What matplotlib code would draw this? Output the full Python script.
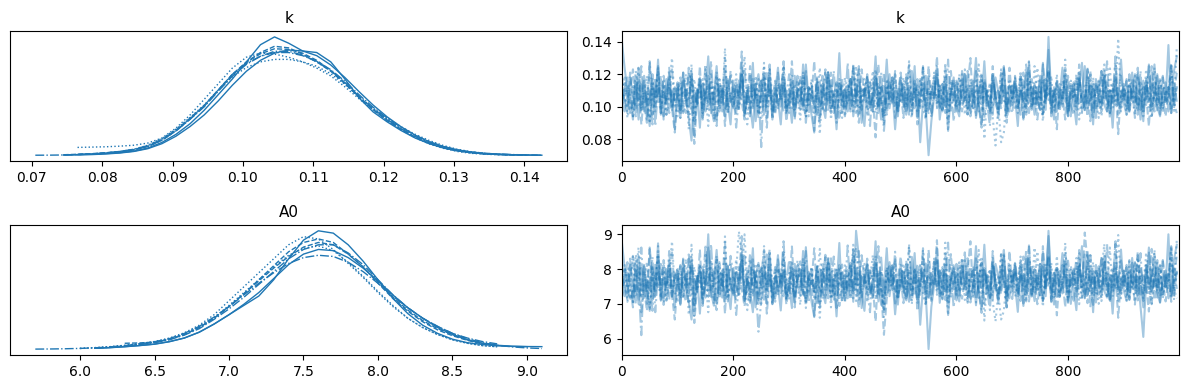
import matplotlib
import matplotlib.pyplot as plt
import numpy as np
from matplotlib.ticker import MultipleLocator

matplotlib.use("Agg")

COLOR = "#1f77b4"
LINESTYLES = ["-", "--", ":", "-."]

# Grid on which each chain's density was read (k and A0)
K_GRID = [0.0705, 0.0725, 0.0745, 0.0765, 0.0785, 0.0805, 0.0825, 0.0845, 0.0865,
          0.0885, 0.0905, 0.0925, 0.0945, 0.0965, 0.0985, 0.1005, 0.1025, 0.1045,
          0.1065, 0.1085, 0.1105, 0.1125, 0.1145, 0.1165, 0.1185, 0.1205, 0.1225,
          0.1245, 0.1265, 0.1285, 0.1305, 0.1325, 0.1345, 0.1365, 0.1385, 0.1405, 0.1425]
A0_GRID = [5.7, 5.8, 5.9, 6.0, 6.1, 6.2, 6.3, 6.4, 6.5, 6.6, 6.7, 6.8, 6.9, 7.0, 7.1,
           7.2, 7.3, 7.4, 7.5, 7.6, 7.7, 7.8, 7.9, 8.0, 8.1, 8.2, 8.3, 8.4, 8.5, 8.6,
           8.7, 8.8, 8.9, 9.0, 9.1]

# density per chain (nan = outside that chain's range)
K_DENSITY = [
    "nan nan nan 0.3 0.4 0.6 0.9 1.4 2.4 4.2 6.8 10.2 14.5 19.5 24.5 30.0 35.5 38.0 36.0 33.5 33.0 30.0 24.5 18.5 14.0 10.8 8.0 5.6 3.8 2.4 1.5 0.9 0.5 0.3 0.2 0.15 nan",
    "nan nan 0.25 0.4 0.6 0.9 1.3 1.9 3.0 5.0 8.2 12.0 16.0 21.0 26.0 30.0 33.0 35.0 34.5 32.5 30.0 27.0 23.0 18.8 14.8 11.4 8.4 5.9 3.9 2.5 1.5 0.9 0.5 0.3 0.2 0.15 nan",
    "nan nan nan 2.6 2.7 2.8 3.0 3.3 4.0 5.6 8.8 13.0 18.0 23.0 28.0 31.5 32.8 32.5 31.5 30.0 28.0 25.5 22.0 18.2 14.6 11.2 8.2 5.7 3.7 2.3 1.3 0.7 0.4 0.25 0.15 nan nan",
    "0.1 0.12 0.18 0.3 0.5 0.8 1.3 2.0 3.2 5.2 8.0 11.8 16.0 21.0 26.0 29.5 31.8 33.0 33.0 32.0 30.2 27.5 23.8 19.5 15.5 12.0 9.0 6.5 4.4 2.9 1.8 1.1 0.7 0.45 0.3 0.2 0.12",
    "nan nan 0.15 0.2 0.3 0.5 0.8 1.3 2.2 3.8 6.2 9.3 13.0 17.5 22.5 27.0 30.5 32.8 33.8 33.5 32.0 29.0 25.0 20.5 16.2 12.4 9.2 6.5 4.4 2.9 1.8 1.1 0.65 0.4 0.25 0.15 0.1",
    "nan nan nan 0.35 0.5 0.8 1.2 1.8 2.9 4.9 7.9 11.7 15.8 20.8 25.8 29.8 32.6 34.2 34.0 32.8 30.5 27.2 23.2 18.7 14.7 11.2 8.3 5.8 3.9 2.5 1.5 0.9 0.55 0.35 0.2 nan nan",
    "nan nan nan nan 0.5 0.8 1.3 2.0 3.3 5.5 8.5 12.2 16.2 21.0 25.2 28.2 30.0 30.8 30.8 30.0 28.6 26.2 22.8 18.8 15.2 12.0 9.2 6.8 4.8 3.2 2.0 1.2 0.7 0.4 nan nan nan",
    "nan nan 0.2 0.3 0.5 0.75 1.15 1.8 2.9 4.9 7.9 11.6 15.6 20.6 25.4 29.2 31.8 33.4 33.4 32.2 30.0 27.2 23.4 19.0 15.0 11.6 8.6 6.1 4.1 2.7 1.7 1.05 0.65 0.4 0.25 0.15 0.1",
]
A0_DENSITY = [
    "nan nan nan nan 0.012 0.018 0.026 0.036 0.048 0.07 0.1 0.15 0.22 0.30 0.38 0.46 0.60 0.78 0.94 1.02 1.00 0.90 0.76 0.60 0.44 0.31 0.21 0.14 0.09 0.06 0.045 0.033 0.028 0.026 nan",
    "nan nan nan nan nan nan 0.055 0.058 0.065 0.09 0.13 0.19 0.27 0.37 0.48 0.59 0.70 0.80 0.88 0.92 0.90 0.82 0.71 0.58 0.45 0.34 0.25 0.18 0.13 0.085 0.055 0.04 nan nan nan",
    "nan nan nan 0.012 0.018 0.026 0.038 0.052 0.07 0.1 0.145 0.21 0.30 0.42 0.54 0.66 0.78 0.90 0.97 0.95 0.86 0.74 0.62 0.49 0.37 0.27 0.19 0.13 0.085 0.055 0.035 0.025 nan nan nan",
    "0.005 0.006 0.008 0.011 0.016 0.024 0.035 0.05 0.068 0.095 0.14 0.2 0.28 0.37 0.47 0.57 0.66 0.74 0.79 0.81 0.80 0.75 0.67 0.57 0.46 0.36 0.27 0.2 0.14 0.095 0.06 0.038 0.024 0.015 0.01",
    "nan nan nan nan 0.012 0.017 0.025 0.035 0.047 0.068 0.1 0.15 0.22 0.30 0.39 0.49 0.61 0.73 0.82 0.86 0.85 0.79 0.70 0.59 0.47 0.36 0.27 0.19 0.13 0.085 0.055 0.038 0.03 0.027 0.026",
    "nan nan nan nan nan 0.022 0.032 0.046 0.062 0.088 0.13 0.19 0.27 0.37 0.48 0.6 0.72 0.84 0.92 0.95 0.92 0.82 0.71 0.57 0.44 0.33 0.24 0.17 0.12 0.08 0.05 0.035 nan nan nan",
    "nan nan nan 0.01 0.016 0.024 0.034 0.048 0.065 0.092 0.135 0.195 0.275 0.38 0.49 0.6 0.71 0.81 0.87 0.89 0.85 0.75 0.63 0.5 0.38 0.27 0.19 0.13 0.085 0.055 0.035 0.025 nan nan nan",
    "nan nan nan nan 0.014 0.021 0.031 0.044 0.06 0.085 0.125 0.18 0.26 0.35 0.45 0.56 0.67 0.78 0.86 0.9 0.9 0.83 0.73 0.6 0.47 0.36 0.27 0.2 0.14 0.1 0.07 0.05 nan nan nan",
]

# Trace values, one string per chain, every 5th draw (k in 1/1000, A0 in 1/100)
DRAW_STEP = 5
K_TRACE = [
    """141 124 110 97 103 115 92 108 119 101 88 112 106 125 99 94 117 104 109 86
       113 98 121 105 93 79 110 102 118 96 107 131 100 91 114 108 97 122 103 89
       116 105 99 127 94 110 101 87 112 120 106 95 103 118 92 109 124 100 113 97
       105 90 119 108 98 126 103 111 95 84 107 115 101 93 121 109 99 104 133 96
       110 102 117 94 106 123 100 88 113 105 97 119 108 92 103 129 99 111 86 107
       118 104 95 110 101 125 93 107 114 99 70 91 106 120 103 97 112 85 109 116
       100 94 122 105 111 96 108 130 102 89 115 104 98 119 107 93 110 124 101 97
       113 106 88 117 103 99 121 109 95 112 104 127 98 143 105 92 116 108 100 120
       96 111 103 89 118 107 125 99 105 114 93 109 122 101 97 110 87 116 104 129
       102 95 113 108 120 98 106 91 117 103 111 126 100 94 109 115 97 105 122 131""",
    """98 112 105 121 94 103 116 89 108 100 127 95 110 104 119 92 106 113 99 84
       107 118 101 96 124 110 77 105 115 93 109 102 120 98 88 113 106 130 97 104
       111 99 117 103 92 108 125 100 114 95 106 119 87 110 102 97 121 105 113 91
       104 128 98 109 116 101 94 112 107 85 118 103 99 123 110 96 105 115 92 108
       100 113 97 126 104 90 111 107 119 99 106 81 114 102 121 95 109 117 103 98
       110 93 120 105 100 116 89 108 124 101 96 113 106 131 99 104 118 92 110 107
       115 102 97 109 122 94 105 112 100 87 117 108 96 125 103 111 99 114 90 106
       101 119 107 95 113 104 128 98 110 92 106 116 102 121 97 109 86 112 105 118
       94 108 114 100 126 97 103 119 91 111 106 99 122 104 115 93 107 113 83 110
       105 117 96 109 101 124 98 112 107 88 115 103 120 99 106 94 111 127 102 96""",
    """106 119 93 101 114 108 125 97 110 103 91 116 105 122 99 108 95 113 130 102
       94 111 107 120 86 104 117 100 109 96 123 105 113 92 107 118 101 136 98 110
       103 115 97 121 108 89 112 104 119 95 106 127 100 111 93 116 102 108 124 97
       110 99 114 105 92 120 107 101 117 96 109 83 113 104 122 98 106 115 100 93
       118 103 109 97 125 106 100 112 94 115 108 123 99 104 89 117 110 102 120 96
       107 113 101 128 95 109 104 118 99 92 111 106 121 100 114 97 108 85 116 103
       99 120 105 110 94 117 102 108 126 97 112 104 115 93 76 101 78 84 110 106
       113 98 107 122 103 95 116 109 100 124 106 91 112 104 119 97 108 114 101 129
       96 110 105 118 92 107 113 101 121 99 106 116 94 111 103 125 98 109 142 102
       108 95 114 104 119 100 111 97 123 106 93 112 105 117 99 110 102 126 96 113""",
    """101 97 112 108 94 120 105 99 116 103 110 89 118 106 96 113 102 124 98 107
       115 93 109 104 121 100 82 111 106 117 97 105 128 101 92 110 114 99 108 119
       103 96 112 107 123 100 94 115 105 110 75 118 104 126 92 109 101 113 97 106
       120 105 99 111 103 116 90 108 114 101 95 107 119 96 110 104 122 99 105 113
       94 109 117 102 106 125 98 111 103 88 115 107 100 121 96 112 105 118 93 108
       102 114 99 127 104 110 96 116 107 101 120 93 109 105 113 98 124 103 111 91
       108 118 100 106 95 113 104 122 97 109 115 102 88 117 106 99 111 125 101 105
       96 112 107 119 93 104 128 100 110 105 98 116 103 121 94 108 113 99 107 124
       111 101 95 109 117 104 99 123 106 92 114 108 102 119 97 110 105 131 100 107
       113 98 120 103 109 95 116 106 101 125 93 110 104 118 99 107 112 96 115 103""",
    """110 103 96 118 107 99 124 101 113 92 106 117 100 129 95 109 104 121 98 112
       105 93 116 108 100 122 97 111 87 114 103 119 96 107 125 101 110 94 117 104
       99 113 106 120 95 108 102 127 91 111 116 100 105 123 97 110 104 89 115 107
       101 119 94 109 112 98 126 104 107 100 117 93 113 105 121 99 108 86 114 103
       111 97 106 124 102 115 90 109 118 101 105 131 96 112 107 99 120 104 110 94
       116 100 108 95 122 106 113 78 103 119 98 110 105 125 92 107 114 101 109 118
       97 111 104 120 99 107 116 93 112 103 128 100 106 95 118 109 102 123 96 113
       105 117 100 110 92 121 107 99 114 104 119 96 109 135 101 112 97 106 124 103
       108 94 115 102 111 127 98 106 113 89 117 104 100 122 107 96 110 118 103 99
       114 106 97 121 103 110 92 116 105 126 100 108 119 95 111 104 138 99 107 112""",
    """118 105 99 111 123 94 107 115 101 90 128 106 97 113 102 119 108 96 110 104
       113 98 121 103 95 117 107 100 125 92 109 114 101 106 120 97 111 88 116 105
       100 112 107 134 96 104 119 99 110 93 116 103 122 108 101 95 113 106 124 98
       107 115 92 109 119 102 97 112 105 128 100 90 114 108 103 121 96 110 104 117
       94 106 118 101 111 99 123 107 103 115 97 109 126 102 93 112 106 118 100 108
       121 104 96 113 107 99 117 102 111 94 125 105 108 119 100 114 96 106 122 103
       109 97 116 104 112 130 99 107 101 118 93 110 105 120 102 96 113 108 99 124
       103 114 100 108 121 95 106 117 102 110 98 126 104 112 96 109 115 101 107 92
       119 105 111 98 116 103 108 94 122 100 113 106 97 118 104 110 101 127 95 109
       106 116 102 111 93 120 107 99 114 104 125 97 109 101 118 103 112 96 108 121""",
    """103 115 108 96 100 122 110 97 106 119 91 108 102 125 96 112 104 117 99 109
       114 101 97 111 105 126 93 107 118 100 110 88 115 103 121 98 106 113 95 109
       102 120 99 108 131 104 96 112 106 117 93 110 101 123 107 98 114 103 119 95
       111 105 98 116 102 121 94 109 113 100 107 124 97 104 118 92 110 106 115 101
       99 113 107 126 95 110 103 117 100 108 122 96 112 104 89 116 101 109 120 98
       106 118 102 111 97 114 108 100 124 93 110 105 119 99 113 104 127 96 107 115
       101 109 120 95 112 103 98 116 106 121 80 108 114 100 110 97 123 105 99 117
       104 111 96 119 107 101 114 99 125 102 109 94 117 106 112 100 120 97 108 113
       98 116 105 110 122 96 107 113 101 118 104 93 111 126 99 106 115 102 109 97
       112 100 118 106 95 121 103 109 116 98 107 124 101 113 96 110 105 119 102 137""",
    """99 108 118 104 92 113 101 125 97 109 102 120 88 111 106 116 95 104 123 100
       107 115 96 110 103 119 91 108 114 101 126 98 106 112 94 117 104 109 99 122
       110 87 106 121 102 113 97 118 105 100 109 124 93 111 104 116 99 107 128 101
       96 112 104 119 108 99 123 94 110 103 115 100 106 121 97 113 105 90 117 109
       102 127 98 107 114 95 110 104 120 99 106 117 101 112 85 108 115 103 122 97
       111 104 118 100 93 113 107 99 125 105 110 96 119 102 108 114 100 129 97 106
       116 101 109 123 98 105 112 94 108 119 103 110 97 115 106 100 121 104 92 113
       105 118 99 110 104 126 96 108 113 101 117 95 107 122 100 111 103 98 116 109
       93 114 106 120 102 109 97 124 105 111 99 116 103 108 128 96 112 101 107 119
       104 110 98 117 106 101 122 94 113 108 100 115 97 111 119 103 107 125 99 112""",
]
A0_TRACE = [
    """880 805 752 715 738 790 700 760 812 740 680 774 748 835 726 707 800 745 768 690
       785 722 826 750 705 655 772 741 810 716 758 862 733 695 798 764 718 829 744 685
       803 751 727 848 710 772 736 676 781 818 755 712 740 807 699 769 840 731 790 720
       752 688 815 763 723 852 744 779 708 662 760 800 735 702 824 767 725 746 875 711
       772 738 808 706 910 834 731 680 790 750 719 816 765 697 742 860 722 782 670 757
       812 746 710 770 735 846 703 761 793 726 570 692 752 821 741 713 786 668 766 800
       733 707 826 750 778 715 762 866 739 684 797 747 720 818 758 702 773 838 737 716
       790 754 677 805 744 725 829 768 708 781 748 850 722 910 751 698 803 760 730 822
       712 776 745 682 815 763 842 726 750 795 704 769 831 737 718 774 672 801 747 856
       739 708 788 760 820 724 752 690 811 743 778 844 734 703 767 796 716 749 827 870""",
    """720 792 751 830 705 744 801 676 763 737 858 712 782 748 815 697 756 789 725 655
       766 812 734 707 842 775 645 752 797 701 768 740 826 718 682 791 753 878 714 745
       776 727 806 744 693 762 845 731 790 709 750 813 672 772 738 716 828 754 793 698
       748 865 720 768 800 735 705 784 760 665 809 743 723 834 771 711 757 798 694 763
       732 790 712 857 746 689 777 760 818 726 752 650 793 738 611 714 766 805 741 721
       775 702 824 756 730 797 680 762 838 740 711 788 758 883 722 749 812 697 772 761
       796 741 715 767 831 704 753 789 733 674 803 764 716 852 744 778 728 799 690 755
       737 818 762 708 786 746 870 721 773 699 757 801 740 832 714 769 667 785 750 812
       706 764 797 736 855 719 905 820 693 779 754 726 836 748 791 703 745 787 660 771
       752 806 713 769 738 850 720 784 760 678 798 744 826 725 757 707 781 866 742 716""",
    """760 812 706 742 838 779 862 724 786 748 690 803 757 845 728 765 712 791 880 739
       704 781 760 829 668 751 807 733 772 714 847 753 795 700 763 820 737 894 722 776
       744 796 908 834 765 682 788 749 816 711 759 866 733 779 700 801 742 768 842 716
       771 725 797 752 697 823 761 735 808 712 776 660 790 748 838 720 758 801 736 706
       811 743 775 716 862 756 730 787 704 800 768 839 722 748 680 806 770 740 825 712
       762 794 738 872 710 775 748 812 726 695 784 753 830 734 797 715 766 668 803 745
       725 826 757 776 703 808 740 764 855 718 791 749 799 706 650 732 655 680 775 758
       795 721 761 836 746 706 811 773 733 851 757 692 789 748 818 716 767 800 738 875
       712 776 754 820 699 763 793 736 840 724 758 806 708 785 744 862 720 772 898 739
       768 708 800 747 821 731 784 716 848 756 699 789 752 812 723 778 741 860 711 792""",
    """740 722 790 768 705 829 756 610 808 745 781 680 815 763 712 794 738 852 720 770
       803 700 775 749 830 733 665 786 760 812 718 752 872 736 696 778 796 725 767 818
       745 711 788 772 838 730 703 804 758 620 710 815 750 857 700 779 737 793 722 760
       826 755 722 784 746 806 688 768 798 735 702 765 820 714 776 748 836 724 757 790
       706 772 811 737 760 852 719 784 743 676 804 766 730 833 710 788 755 815 701 769
       741 799 722 862 750 776 712 808 765 738 829 703 780 751 795 726 845 744 781 690
       770 815 735 758 707 796 749 836 717 774 803 739 682 812 760 727 787 855 734 752
       714 790 766 818 701 747 868 729 776 757 724 806 745 830 708 767 797 722 764 848
       784 734 709 775 810 748 723 840 761 697 799 769 738 821 716 781 754 880 727 763
       795 726 826 744 777 710 805 758 733 850 701 783 748 812 725 769 792 716 802 743""",
    """782 745 712 812 764 725 838 739 791 700 757 806 736 874 709 775 748 826 722 788
       760 697 803 768 731 835 715 780 672 796 747 900 720 766 855 738 786 706 810 752
       725 792 761 824 708 770 744 860 690 785 800 734 758 840 716 779 752 681 798 767
       737 818 704 774 788 726 863 750 766 735 806 700 791 755 829 722 772 664 797 749
       784 716 760 846 741 795 688 771 812 738 758 880 707 790 765 724 820 753 783 698
       800 735 769 706 835 761 792 640 749 816 720 777 756 860 703 768 797 741 773 811
       710 788 752 825 729 766 805 696 787 745 870 730 762 712 815 779 740 842 706 794
       758 810 733 783 694 829 764 724 798 751 815 708 776 895 740 789 720 761 846 747
       771 700 801 742 785 866 718 760 795 676 812 752 733 838 767 712 783 808 744 728
       796 758 711 832 747 778 690 605 762 862 735 770 818 705 786 749 900 724 766 790""",
    """812 760 725 785 838 700 766 803 743 680 862 770 722 797 751 826 774 712 788 755
       793 719 830 748 705 810 771 736 856 694 779 801 740 763 828 715 786 672 808 759
       730 790 768 895 712 746 823 724 784 700 805 750 842 772 735 706 798 760 849 716
       766 804 690 778 822 743 714 792 757 860 732 688 800 770 745 831 709 785 752 813
       703 763 818 738 787 727 840 769 748 801 717 779 866 742 700 795 762 812 734 771
       836 752 710 796 766 723 815 741 789 706 855 757 776 826 730 800 711 762 843 748
       783 718 809 755 792 880 724 770 738 818 699 787 750 832 744 712 798 768 722 852
       746 797 728 772 836 707 764 813 740 787 720 866 751 799 705 778 810 733 769 691
       824 753 788 721 808 748 771 702 846 735 794 761 716 820 752 783 730 872 709 777
       764 812 742 786 698 833 768 725 803 751 858 712 780 738 822 747 792 706 773 840""",
    """748 806 775 713 737 842 790 716 760 820 685 778 741 866 715 795 752 812 728 780
       800 740 716 786 756 870 696 765 813 730 783 676 808 745 838 722 768 795 707 780
       733 829 720 772 900 750 709 797 761 818 700 785 738 852 764 724 801 747 826 712
       789 751 722 811 740 835 704 776 800 733 768 858 714 750 818 690 783 759 808 735
       720 797 765 870 708 784 745 815 730 772 840 712 792 750 678 806 738 780 828 723
       760 816 735 789 719 803 770 731 856 700 784 752 821 726 798 746 876 713 766 805
       738 778 832 711 794 745 720 808 760 836 652 775 800 733 784 717 848 757 724 811
       750 792 718 826 768 736 803 727 862 742 780 705 815 758 790 730 838 714 773 797
       725 810 756 785 846 712 768 800 737 820 752 700 789 872 723 762 806 741 779 716
       795 738 822 760 706 840 747 782 812 725 770 855 736 800 715 786 752 826 742 885""",
    """726 772 820 748 690 798 735 862 712 776 740 835 676 790 757 812 709 752 848 730
       768 808 715 784 746 826 692 772 798 738 870 720 760 793 705 815 752 782 729 838
       782 668 758 842 736 795 716 828 750 733 777 856 700 789 752 806 725 770 880 737
       712 792 750 825 773 729 852 704 784 744 806 733 760 841 716 797 755 688 812 778
       742 868 724 764 802 712 786 750 830 727 766 816 738 795 662 770 808 745 850 713
       788 748 818 734 700 796 762 726 860 755 784 714 822 740 772 806 733 876 718 763
       815 741 780 848 723 756 797 704 768 824 746 783 717 810 760 731 842 753 690 800
       757 821 728 785 746 856 707 770 800 739 818 711 773 836 730 789 752 721 812 776
       703 805 760 832 744 782 716 852 762 790 728 808 750 772 872 713 794 738 768 825
       752 786 720 818 766 738 846 708 796 772 733 808 718 781 826 749 770 862 725 796""",
]
K_SCALE = 1000.0
A0_SCALE = 100.0
N_DRAWS = 1000


def parse(text: str, scale: float = 1.0) -> np.ndarray:
    """Converte uma string de valores separados por espaço em array."""
    return np.array(text.split(), dtype=float) / scale


def plot_density(ax, grid, densities, title):
    """Plota a densidade de cada cadeia com o estilo de linha da cadeia."""
    x = np.array(grid)
    for i, dens in enumerate(densities):
        ax.plot(x, parse(dens), color=COLOR, lw=1.0, ls=LINESTYLES[i % 4])
    ax.set_yticks([])
    ax.set_title(title, fontsize=11)


def plot_trace(ax, chains, scale, title):
    """Plota o traço de cada cadeia (transparente)."""
    for i, chain in enumerate(chains):
        values = parse(chain, scale)
        draws = np.arange(len(values)) * DRAW_STEP
        ax.plot(draws, values, color=COLOR, lw=1.5, alpha=0.4, ls=LINESTYLES[i % 4])
    ax.set_xlim(0, N_DRAWS - 1)
    ax.set_title(title, fontsize=11)


def main() -> None:
    fig, axes = plt.subplots(2, 2, figsize=(11.89, 3.9), dpi=100)
    plot_density(axes[0, 0], K_GRID, K_DENSITY, "k")
    plot_trace(axes[0, 1], K_TRACE, K_SCALE, "k")
    axes[0, 1].yaxis.set_major_locator(MultipleLocator(0.02))
    plot_density(axes[1, 0], A0_GRID, A0_DENSITY, "A0")
    plot_trace(axes[1, 1], A0_TRACE, A0_SCALE, "A0")
    plt.subplots_adjust(left=0.0084, right=0.9916, top=0.9205, bottom=0.0897,
                        wspace=0.098, hspace=0.49)
    plt.savefig("out.png", dpi=100)
    plt.close()


if __name__ == "__main__":
    main()
